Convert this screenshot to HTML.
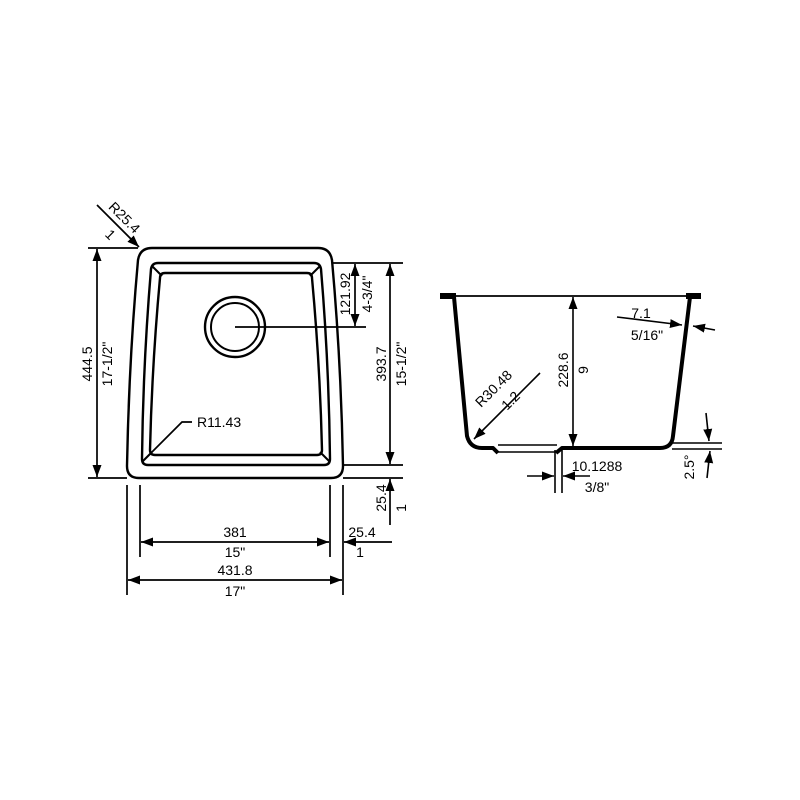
<!DOCTYPE html>
<html><head><meta charset="utf-8"><style>
html,body{margin:0;padding:0;background:#fff;}
svg{display:block;}
text{font-family:"Liberation Sans",sans-serif;font-size:14px;fill:#000;}
</style></head><body>
<svg width="800" height="800" viewBox="0 0 800 800" xmlns="http://www.w3.org/2000/svg">
<defs>
<marker id="a" viewBox="0 0 12 10" refX="12" refY="5" markerWidth="12" markerHeight="10" orient="auto-start-reverse" markerUnits="userSpaceOnUse"><path d="M0,0.5 L12,5 L0,9.5 Z" fill="#000"/></marker>
</defs>
<g fill="none" stroke="#000" stroke-width="2.4">
<path d="M152,248 L318,248 Q330,248 332,260 Q341,360 343,466 Q343,478 331,478 L139,478 Q127,478 127,466 Q129,360 138,260 Q140,248 152,248 Z"/>
<path d="M158,263 L314,263 Q320,263 321,269 Q329,365 330,459 Q330,465 324,465 L148,465 Q142,465 142,459 Q143,365 151,269 Q152,263 158,263 Z"/>
<path d="M165,273 L307,273 Q312,273 312,278 Q320,365 322,450 Q322,455 317,455 L155,455 Q150,455 150,450 Q152,365 160,278 Q160,273 165,273 Z"/>
</g>
<g stroke="#000" stroke-width="2">
<line x1="152" y1="266" x2="162" y2="276"/><line x1="320" y1="266" x2="310" y2="276"/>
<line x1="143" y1="461" x2="152" y2="452"/><line x1="329" y1="461" x2="320" y2="452"/>
</g>
<circle cx="235" cy="327" r="30" fill="none" stroke="#000" stroke-width="2.4"/>
<circle cx="235" cy="327" r="24" fill="none" stroke="#000" stroke-width="2"/>
<g stroke="#000" stroke-width="1.7" fill="none">
<line x1="235" y1="327" x2="366" y2="327"/>
<line x1="88" y1="248" x2="138" y2="248"/><line x1="88" y1="478" x2="127" y2="478"/>
<line x1="97" y1="249" x2="97" y2="477" marker-start="url(#a)" marker-end="url(#a)"/>
<line x1="332" y1="263" x2="403" y2="263"/><line x1="343" y1="465" x2="403" y2="465"/><line x1="343" y1="478" x2="403" y2="478"/>
<line x1="390" y1="264" x2="390" y2="464" marker-start="url(#a)" marker-end="url(#a)"/>
<line x1="355" y1="264" x2="355" y2="326" marker-start="url(#a)" marker-end="url(#a)"/>
<line x1="390" y1="525" x2="390" y2="479" marker-end="url(#a)"/>
<line x1="127" y1="485" x2="127" y2="595"/><line x1="343" y1="485" x2="343" y2="595"/>
<line x1="140" y1="485" x2="140" y2="557"/><line x1="330" y1="485" x2="330" y2="557"/>
<line x1="141" y1="542" x2="329" y2="542" marker-start="url(#a)" marker-end="url(#a)"/>
<line x1="392" y1="542" x2="344" y2="542" marker-end="url(#a)"/>
<line x1="128" y1="580" x2="342" y2="580" marker-start="url(#a)" marker-end="url(#a)"/>
<line x1="97" y1="205" x2="139" y2="247" marker-end="url(#a)"/>
<polyline points="145,459 182,422 192,422"/>
</g>
<text x="121" y="221" transform="rotate(45 121 221)" text-anchor="middle">R25.4</text>
<text x="107" y="238" transform="rotate(45 107 238)" text-anchor="middle">1</text>
<text x="197" y="427">R11.43</text>
<text transform="translate(92,364) rotate(-90)" text-anchor="middle">444.5</text>
<text transform="translate(112,364) rotate(-90)" text-anchor="middle">17-1/2"</text>
<text transform="translate(386,364) rotate(-90)" text-anchor="middle">393.7</text>
<text transform="translate(406,364) rotate(-90)" text-anchor="middle">15-1/2"</text>
<text transform="translate(350,294) rotate(-90)" text-anchor="middle">121.92</text>
<text transform="translate(372,294) rotate(-90)" text-anchor="middle">4-3/4"</text>
<text transform="translate(386,498) rotate(-90)" text-anchor="middle">25.4</text>
<text transform="translate(406,508) rotate(-90)" text-anchor="middle">1</text>
<text x="235" y="537" text-anchor="middle">381</text>
<text x="235" y="557" text-anchor="middle">15"</text>
<text x="362" y="537" text-anchor="middle">25.4</text>
<text x="360" y="557" text-anchor="middle">1</text>
<text x="235" y="575" text-anchor="middle">431.8</text>
<text x="235" y="596" text-anchor="middle">17"</text>

<rect x="440" y="293" width="16" height="6" fill="#000"/>
<rect x="686" y="293" width="15" height="6" fill="#000"/>
<line x1="443" y1="296" x2="700" y2="296" stroke="#000" stroke-width="1.7"/>
<g fill="none" stroke="#000" stroke-width="4" stroke-linejoin="round">
<path d="M454,297 L467,436 Q470,448 482,448 L493,448 L498,453"/>
<path d="M556,453 L562,448 L660,448 Q672,448 673,436 L690,297"/>
</g>
<g stroke="#000" stroke-width="1.6" fill="none">
<line x1="498" y1="445" x2="557" y2="445"/><line x1="498" y1="452" x2="557" y2="452"/>
<line x1="573" y1="297" x2="573" y2="446" marker-start="url(#a)" marker-end="url(#a)"/>
<line x1="540" y1="373" x2="474" y2="439" marker-end="url(#a)"/>
<line x1="617" y1="317" x2="682" y2="325" marker-end="url(#a)"/>
<line x1="715" y1="330" x2="693" y2="326" marker-end="url(#a)"/>
<line x1="672" y1="443" x2="722" y2="443"/><line x1="672" y1="449" x2="722" y2="449"/>
<line x1="706" y1="413" x2="709" y2="441" marker-end="url(#a)"/>
<line x1="707" y1="478" x2="710" y2="451" marker-end="url(#a)"/>
<line x1="555" y1="450" x2="555" y2="493"/><line x1="562" y1="450" x2="562" y2="493"/>
<line x1="527" y1="476" x2="554" y2="476" marker-end="url(#a)"/>
<line x1="590" y1="476" x2="563" y2="476" marker-end="url(#a)"/>
</g>
<text transform="translate(568,370) rotate(-90)" text-anchor="middle">228.6</text>
<text transform="translate(588,370) rotate(-90)" text-anchor="middle">9</text>
<text transform="translate(497,392) rotate(-45)" text-anchor="middle">R30.48</text>
<text transform="translate(514,404) rotate(-45)" text-anchor="middle">1.2</text>
<text x="641" y="318" text-anchor="middle">7.1</text>
<text x="647" y="340" text-anchor="middle">5/16"</text>
<text transform="translate(694,467) rotate(-90)" text-anchor="middle">2.5°</text>
<text x="597" y="471" text-anchor="middle">10.1288</text>
<text x="597" y="492" text-anchor="middle">3/8"</text>
</svg>
</body></html>
